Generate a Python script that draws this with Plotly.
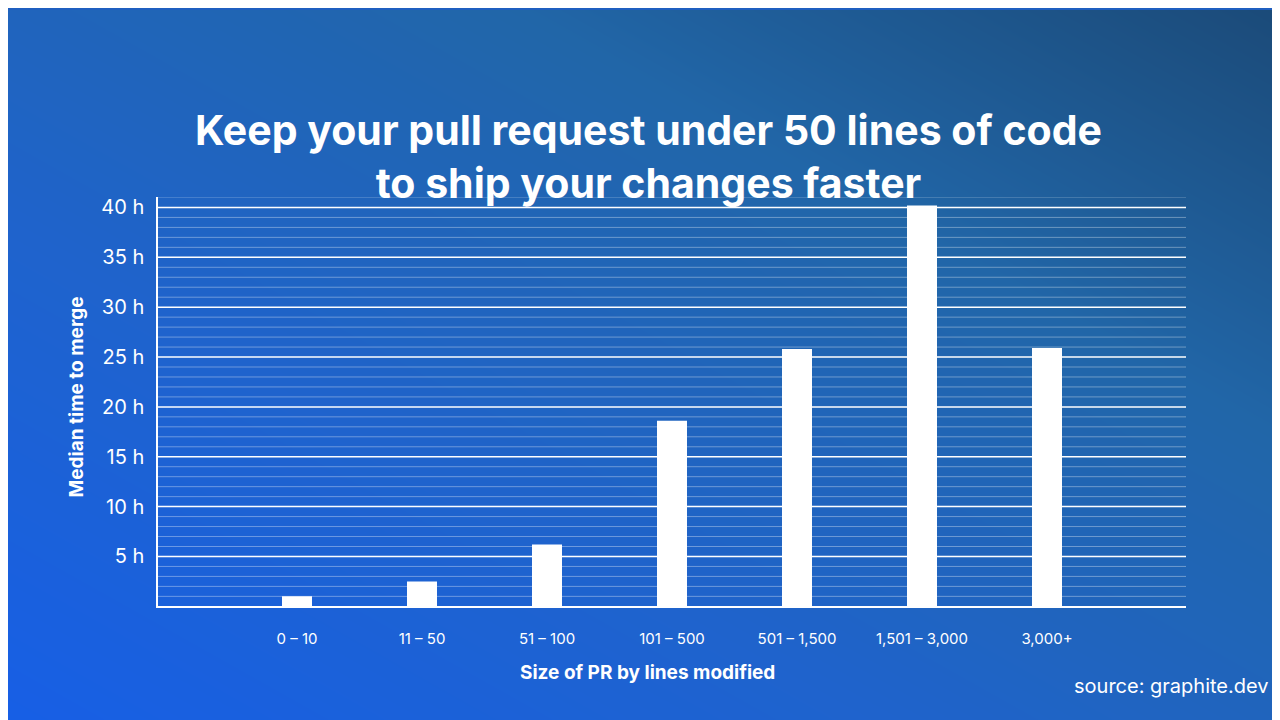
import plotly.graph_objects as go

categories = ["0 – 10", "11 – 50", "51 – 100", "101 – 500", "501 – 1,500", "1,501 – 3,000", "3,000+"]
hours = [1.0, 2.5, 6.2, 18.6, 25.8, 40.2, 25.9]
ytick_vals = [5, 10, 15, 20, 25, 30, 35, 40]
ytick_text = [f"{v} h" for v in ytick_vals]

fig = go.Figure()

# background gradient (bottom-left bright blue -> top-right dark teal), on full-page axes x/y
fig.add_trace(go.Heatmap(
    z=[[0, 1, 2], [1, 2, 3], [2, 3, 4]], x=[0, 1, 2], y=[0, 1, 2],
    xaxis="x", yaxis="y", zsmooth="best", showscale=False, hoverinfo="skip",
    colorscale=[[0, "#175fe6"], [0.35, "#1f63cc"], [0.7, "#2166a8"], [1, "#1b4a78"]],
))

x_idx = list(range(len(categories)))
fig.add_trace(go.Bar(x=x_idx, y=hours, width=0.24, marker=dict(color="white", line=dict(width=0)),
                     xaxis="x2", yaxis="y2"))

grid_shapes = []
for h in range(1, 42):
    major = h % 5 == 0
    grid_shapes.append(dict(type="line", xref="x2 domain", yref="y2", x0=0, x1=1, y0=h, y1=h,
                            line=dict(color="white" if major else "rgba(255,255,255,0.35)",
                                      width=1.5 if major else 1), layer="above"))

fig.update_layout(
    width=1280, height=720, margin=dict(l=0, r=0, t=0, b=0),
    paper_bgcolor="#1f5fc0", plot_bgcolor="rgba(0,0,0,0)", showlegend=False,
    font=dict(family="Inter, sans-serif", color="white"),
    xaxis=dict(domain=[0, 1], range=[0, 2], visible=False, fixedrange=True),
    yaxis=dict(domain=[0, 1], range=[0, 2], visible=False, fixedrange=True),
    xaxis2=dict(domain=[150/1280, 1178/1280], range=[-1.112, 7.112], anchor="y2",
                tickvals=x_idx, ticktext=categories, tickfont=dict(size=15), showgrid=False,
                showline=True, linecolor="white", linewidth=1.5, ticks="", zeroline=False,
                ticklabelstandoff=18),
    yaxis2=dict(domain=[(720-598)/720, (720-188)/720], range=[0, 41], anchor="x2",
                tickvals=ytick_vals, ticktext=ytick_text, tickfont=dict(size=20), showgrid=False,
                showline=True, linecolor="white", linewidth=1.5, zeroline=False, ticks="",
                ticklabelstandoff=8),
    shapes=grid_shapes,
    annotations=[
        dict(text="<b>Keep your pull request under 50 lines of code<br>to ship your changes faster</b>",
             x=0.5, y=(720-93)/720, xref="paper", yref="paper", showarrow=False,
             font=dict(size=41, color="white"), align="center"),
        dict(text="<b>Median time to merge</b>", x=55/1280, y=(720-388)/720, xref="paper", yref="paper",
             showarrow=False, textangle=-90, font=dict(size=19, color="white")),
        dict(text="<b>Size of PR by lines modified</b>", x=639/1280, y=(720-678)/720, xref="paper",
             yref="paper", showarrow=False, font=dict(size=19, color="white")),
        dict(text="source: graphite.dev", x=1263/1280, y=(720-692)/720, xref="paper", yref="paper",
             xanchor="right", showarrow=False, font=dict(size=20, color="white")),
    ],
)

fig.write_html("out.html")
